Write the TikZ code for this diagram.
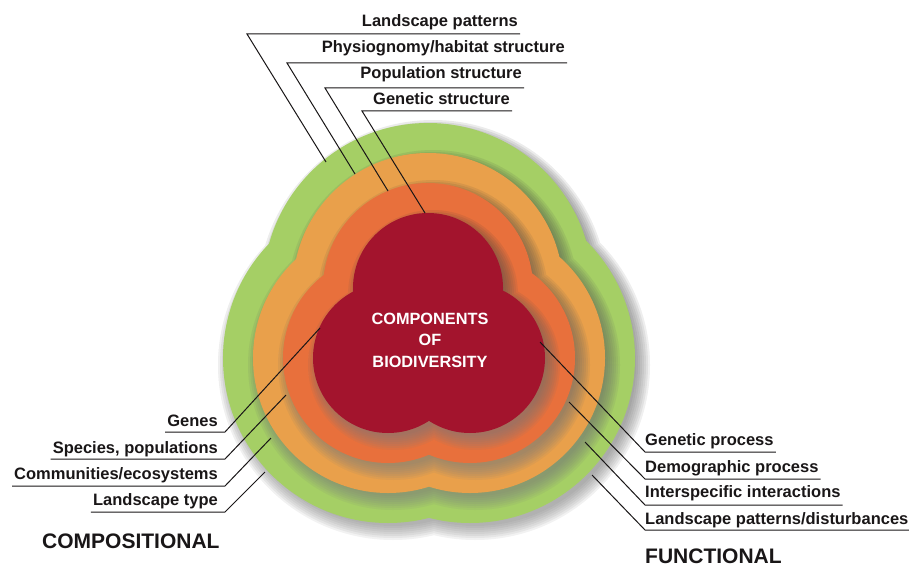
\documentclass[tikz,border=0pt]{standalone}
\usepackage{fontspec}
\setmainfont{Liberation Sans}
\usepackage{xcolor}
\usepackage{tikz}

\definecolor{ringgreen}{RGB}{165,207,101}
\definecolor{ringtan}{RGB}{233,160,75}
\definecolor{ringorange}{RGB}{232,112,60}
\definecolor{corered}{RGB}{163,20,45}
\definecolor{ink}{RGB}{25,22,23}
\definecolor{shade}{RGB}{40,40,70}

\tikzset{
  lobes/.style = {insert path = {(428,288) circle [radius = #1] (388,358) circle [radius = #1] (470,358) circle [radius = #1]}},
  lbl/.style = {font = \fontsize{16.5}{19}\selectfont\bfseries, text = ink, inner sep = 2pt},
  title/.style = {font = \fontsize{21}{24}\selectfont\bfseries, text = ink, inner sep = 2pt},
  leader/.style = {draw = ink, line width = 1pt},
}

\begin{document}
\begin{tikzpicture}[x = 1pt, y = -1pt]
\useasboundingbox (0,0) rectangle (909,567);

% rings, outermost first, each with a soft shadow to the lower right
\foreach \R/\col in {165/ringgreen, 135/ringtan, 105/ringorange, 75/corered}{
  \foreach \d in {-4,-2,...,10}
    \fill[shade, opacity = .055, shift = {(5,7)}, lobes = {(\R+\d)*1pt}];
  \fill[\col, lobes = {\R*1pt}];
}

\node[font = \fontsize{16.3}{21.5}\selectfont\bfseries, text = white, align = center] (core) at (430,340) {COMPONENTS\\OF\\BIODIVERSITY};

% structural labels (top)
\node[lbl, anchor = base east] (lscp) at (520,27) {Landscape patterns};
\node[lbl, anchor = base east] (phys) at (567,53) {Physiognomy/habitat structure};
\node[lbl, anchor = base east] (pops) at (524,79) {Population structure};
\node[lbl, anchor = base east] (gens) at (512,105) {Genetic structure};

\coordinate (lscp-k) at (247,34);  \coordinate (lscp-e) at (326,162);
\coordinate (phys-k) at (287,63);  \coordinate (phys-e) at (355,174);
\coordinate (pops-k) at (325,88);  \coordinate (pops-e) at (388,191);
\coordinate (gens-k) at (362,111); \coordinate (gens-e) at (425,213);

\draw[leader] (lscp-e) -- (lscp-k) -- (lscp-k -| lscp.east);
\draw[leader] (phys-e) -- (phys-k) -- (phys-k -| phys.east);
\draw[leader] (pops-e) -- (pops-k) -- (pops-k -| pops.east);
\draw[leader] (gens-e) -- (gens-k) -- (gens-k -| gens.east);

% compositional labels (left)
\node[lbl, anchor = base east] (genes) at (220,426) {Genes};
\node[lbl, anchor = base east] (spec) at (220,453) {Species, populations};
\node[lbl, anchor = base east] (comm) at (220,479) {Communities/ecosystems};
\node[lbl, anchor = base east] (ltype) at (220,505) {Landscape type};

\coordinate (genes-k) at (225,432); \coordinate (genes-e) at (320,328);
\coordinate (spec-k) at (225,459);  \coordinate (spec-e) at (286,395);
\coordinate (comm-k) at (225,486);  \coordinate (comm-e) at (271,438);
\coordinate (ltype-k) at (225,512); \coordinate (ltype-e) at (265,472);

\draw[leader] (genes-k -| genes.west) -- (genes-k) -- (genes-e);
\draw[leader] (spec-k -| spec.west) -- (spec-k) -- (spec-e);
\draw[leader] (comm-k -| comm.west) -- (comm-k) -- (comm-e);
\draw[leader] (ltype-k -| ltype.west) -- (ltype-k) -- (ltype-e);

% functional labels (right)
\node[lbl, anchor = base west] (gproc) at (643,445) {Genetic process};
\node[lbl, anchor = base west] (dproc) at (643,472) {Demographic process};
\node[lbl, anchor = base west] (inter) at (643,497) {Interspecific interactions};
\node[lbl, anchor = base west] (dist) at (643,524) {Landscape patterns/disturbances};

\coordinate (gproc-k) at (645,452); \coordinate (gproc-e) at (540,342);
\coordinate (dproc-k) at (645,479); \coordinate (dproc-e) at (569,402);
\coordinate (inter-k) at (645,505); \coordinate (inter-e) at (585,442);
\coordinate (dist-k) at (645,530);  \coordinate (dist-e) at (592,475);

\draw[leader] (gproc-e) -- (gproc-k) -- (gproc-k -| gproc.east);
\draw[leader] (dproc-e) -- (dproc-k) -- (dproc-k -| dproc.east);
\draw[leader] (inter-e) -- (inter-k) -- (inter-k -| inter.east);
\draw[leader] (dist-e) -- (dist-k) -- (dist-k -| dist.east);

\node[title, anchor = west] (comp) at (40,541) {COMPOSITIONAL};
\node[title, anchor = west] (func) at (643,556) {FUNCTIONAL};
\end{tikzpicture}
\end{document}
